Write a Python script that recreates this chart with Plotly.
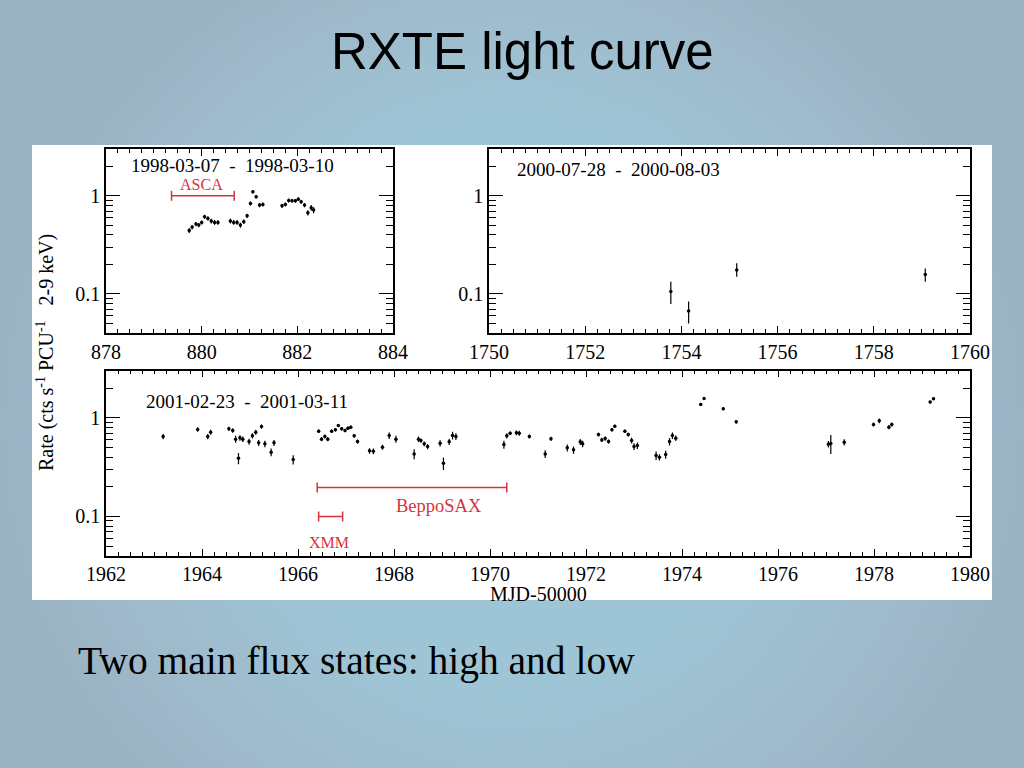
import math
import plotly.graph_objects as go

# ---------------- data ----------------
tl_mjd = [879.74, 879.80, 879.88, 879.94, 880.00, 880.06, 880.13, 880.20, 880.27, 880.34,
          880.60, 880.67, 880.74, 880.81, 880.88, 880.95, 881.02, 881.07, 881.14, 881.21,
          881.28, 881.68, 881.75, 881.82, 881.89, 881.96, 882.02, 882.08, 882.15, 882.22,
          882.29, 882.34]
tl_rate = [0.444, 0.48, 0.515, 0.503, 0.536, 0.612, 0.589, 0.553, 0.536, 0.536,
           0.553, 0.536, 0.536, 0.503, 0.545, 0.626, 0.837, 1.099, 0.977, 0.804,
           0.817, 0.791, 0.817, 0.897, 0.89, 0.89, 0.925, 0.869, 0.804, 0.671,
           0.755, 0.716]
tl_err = [0.025, 0.025, 0.025, 0.025, 0.025, 0.03, 0.03, 0.03, 0.03, 0.03,
          0.03, 0.03, 0.03, 0.03, 0.03, 0.03, 0.04, 0.04, 0.04, 0.04,
          0.04, 0.04, 0.04, 0.04, 0.04, 0.04, 0.04, 0.04, 0.04, 0.04,
          0.05, 0.05]

tr_mjd = [1753.78, 1754.15, 1755.15, 1759.07]
tr_rate = [0.106, 0.067, 0.175, 0.158]
tr_err_plus = [0.027, 0.017, 0.030, 0.024]
tr_err_minus = [0.027, 0.017, 0.025, 0.025]

b_mjd = [1963.19, 1963.91, 1964.12, 1964.18, 1964.56, 1964.64, 1964.70, 1964.76, 1964.79,
         1964.85, 1964.98, 1965.05, 1965.12, 1965.18, 1965.24, 1965.31, 1965.44, 1965.50,
         1965.90, 1966.43, 1966.49, 1966.56, 1966.62, 1966.70, 1966.78, 1966.84, 1966.91,
         1966.98, 1967.04, 1967.10, 1967.17, 1967.24, 1967.49, 1967.57, 1967.76, 1967.90,
         1968.04, 1968.42, 1968.51, 1968.56, 1968.63, 1968.70, 1968.96, 1969.03, 1969.15,
         1969.22, 1969.29, 1970.29, 1970.35, 1970.42, 1970.55, 1970.61, 1970.82, 1971.15,
         1971.27, 1971.61, 1971.74, 1971.88, 1971.93, 1972.26, 1972.33, 1972.40, 1972.47,
         1972.54, 1972.60, 1972.81, 1972.88, 1972.95, 1973.00, 1973.07, 1973.46, 1973.53,
         1973.66, 1973.74, 1973.80, 1973.87, 1974.39, 1974.46, 1974.86, 1975.13, 1977.05,
         1977.10, 1977.38, 1977.99, 1978.11, 1978.31, 1978.37, 1979.17, 1979.24]
b_rate = [0.645, 0.76, 0.645, 0.714, 0.773, 0.743, 0.607, 0.389, 0.626,
          0.607, 0.574, 0.656, 0.714, 0.557, 0.816, 0.544, 0.447, 0.557,
          0.377, 0.731, 0.607, 0.645, 0.607, 0.731, 0.755, 0.835, 0.773,
          0.743, 0.784, 0.803, 0.656, 0.574, 0.462, 0.458, 0.503, 0.661,
          0.607, 0.43, 0.607, 0.588, 0.544, 0.511, 0.552, 0.346, 0.571,
          0.661, 0.645, 0.535, 0.656, 0.698, 0.704, 0.698, 0.645, 0.43,
          0.612, 0.496, 0.473, 0.571, 0.544, 0.676, 0.597, 0.616, 0.574,
          0.755, 0.822, 0.731, 0.676, 0.588, 0.511, 0.523, 0.414, 0.398,
          0.424, 0.574, 0.661, 0.621, 1.366, 1.57, 1.234, 0.91, 0.54,
          0.55, 0.565, 0.855, 0.932, 0.803, 0.855, 1.442, 1.56]
b_err = [0.04, 0.04, 0.04, 0.04, 0.04, 0.04, 0.05, 0.05, 0.04,
         0.04, 0.04, 0.04, 0.04, 0.04, 0.04, 0.04, 0.04, 0.04,
         0.04, 0.03, 0.03, 0.03, 0.03, 0.03, 0.03, 0.03, 0.03,
         0.03, 0.03, 0.03, 0.03, 0.03, 0.03, 0.03, 0.03, 0.05,
         0.05, 0.05, 0.04, 0.03, 0.03, 0.03, 0.04, 0.05, 0.04,
         0.06, 0.05, 0.05, 0.04, 0.03, 0.04, 0.04, 0.03, 0.04,
         0.03, 0.04, 0.04, 0.04, 0.04, 0.03, 0.03, 0.03, 0.03,
         0.03, 0.03, 0.03, 0.03, 0.04, 0.04, 0.04, 0.04, 0.03,
         0.04, 0.05, 0.05, 0.04, 0.05, 0.05, 0.04, 0.04, 0.04,
         0.12, 0.04, 0.04, 0.05, 0.04, 0.04, 0.05, 0.05]

# observation windows (start, end, rate level)
asca_win = [879.37, 880.68, 1.0]
sax_win = [1966.40, 1970.35, 0.197]
xmm_win = [1966.43, 1966.93, 0.1]

y_lo, y_hi = 0.04, 3.0
y_minor = [0.04, 0.05, 0.06, 0.07, 0.08, 0.09, 0.2, 0.3, 0.4, 0.5, 0.6, 0.7, 0.8, 0.9, 2, 3]

# ---------------- figure ----------------
W, H = 1024, 768
fig = go.Figure()

def px_x(p):
    return p / W

def px_y(p):
    return 1 - p / H

# background gradient approximation
shapes = []
n_rings = 18
for i in range(n_rings):
    f = i / n_rings
    shapes.append(dict(type="circle", xref="paper", yref="paper", layer="below",
                       x0=0.0 + 0.25 * f, x1=1.0 - 0.25 * f,
                       y0=-0.2 + 0.3 * f, y1=1.1 - 0.25 * f,
                       line=dict(width=0), fillcolor="rgba(185,212,226,0.05)"))
shapes.append(dict(type="rect", xref="paper", yref="paper", layer="below",
                   x0=px_x(32), x1=px_x(992), y0=px_y(600), y1=px_y(145),
                   line=dict(width=0), fillcolor="white"))

mk = dict(color="black", size=3.5)
ek = dict(color="black", thickness=1.2, width=0)

fig.add_trace(go.Scatter(x=tl_mjd, y=tl_rate, mode="markers", marker=mk,
                         error_y=dict(type="data", array=tl_err, **ek),
                         xaxis="x", yaxis="y", showlegend=False))
fig.add_trace(go.Scatter(x=tr_mjd, y=tr_rate, mode="markers", marker=mk,
                         error_y=dict(type="data", array=tr_err_plus, arrayminus=tr_err_minus, **ek),
                         xaxis="x2", yaxis="y2", showlegend=False))
fig.add_trace(go.Scatter(x=b_mjd, y=b_rate, mode="markers", marker=mk,
                         error_y=dict(type="data", array=b_err, **ek),
                         xaxis="x3", yaxis="y3", showlegend=False))

red = "#d8323c"
for win, xa, ya in [(asca_win, "x", "y"), (sax_win, "x3", "y3"), (xmm_win, "x3", "y3")]:
    c = (win[0] + win[1]) / 2
    h = (win[1] - win[0]) / 2
    fig.add_trace(go.Scatter(x=[c], y=[win[2]], mode="markers",
                             marker=dict(size=1, color=red, opacity=0),
                             error_x=dict(type="data", array=[h], color=red, thickness=1.5, width=5),
                             xaxis=xa, yaxis=ya, showlegend=False, hoverinfo="skip"))

tick_font = dict(family="Liberation Serif", size=20, color="black")

def xax(domain, rng, dtick, anchor):
    return dict(domain=domain, range=rng, dtick=dtick, tick0=rng[0], anchor=anchor,
                showgrid=False, zeroline=False, showline=True, linecolor="black", linewidth=1.5,
                mirror="ticks", ticks="inside", ticklen=7, tickwidth=1.2, tickcolor="black",
                minor=dict(dtick=0.25, tick0=rng[0], ticks="inside", ticklen=4, tickwidth=1,
                           tickcolor="black", showgrid=False),
                tickfont=tick_font, fixedrange=True, automargin=False)

def yax(domain, anchor):
    return dict(domain=domain, type="log", range=[math.log10(y_lo), math.log10(y_hi)],
                anchor=anchor, tickmode="array", tickvals=[0.1, 1], ticktext=["0.1", "1"],
                showgrid=False, zeroline=False, showline=True, linecolor="black", linewidth=1.5,
                mirror="ticks", ticks="inside", ticklen=14, tickwidth=1.2, tickcolor="black",
                minor=dict(tickmode="array", tickvals=y_minor, ticks="inside", ticklen=7,
                           tickwidth=1, tickcolor="black", showgrid=False),
                tickfont=tick_font, fixedrange=True, automargin=False)

top_dom = [px_y(333), px_y(149)]
bot_dom = [px_y(555.7), px_y(370.7)]

fig.update_layout(
    width=W, height=H, autosize=False,
    margin=dict(l=0, r=0, t=0, b=0, pad=0, autoexpand=False),
    paper_bgcolor="#9ab3c2",
    plot_bgcolor="white",
    showlegend=False,
    shapes=shapes,
    xaxis=xax([px_x(106), px_x(393)], [878, 884], 2, "y"),
    yaxis=yax(top_dom, "x"),
    xaxis2=xax([px_x(489), px_x(970)], [1750, 1760], 2, "y2"),
    yaxis2=yax(top_dom, "x2"),
    xaxis3=xax([px_x(106), px_x(970)], [1962, 1980], 2, "y3"),
    yaxis3=yax(bot_dom, "x3"),
)

serif = "Liberation Serif"
ann = []
def note(text, x, y, size, color="black", xref="paper", yref="paper", xanchor="center", angle=0):
    ann.append(dict(text=text, xref=xref, yref=yref, x=x, y=y, showarrow=False, borderpad=0,
                    textangle=angle, font=dict(family=serif, size=size, color=color),
                    xanchor=xanchor, yanchor="middle"))

ann.append(dict(text="RXTE light curve", xref="paper", yref="paper", x=px_x(522), y=px_y(51),
                showarrow=False, font=dict(family="Liberation Sans", size=51, color="black"),
                xanchor="center", yanchor="middle"))
note("1998-03-07 \u00a0- \u00a01998-03-10", px_x(232), px_y(165), 19)
note("2000-07-28 \u00a0- \u00a02000-08-03", px_x(618), px_y(169), 19)
note("2001-02-23 \u00a0- \u00a02001-03-11", px_x(247), px_y(401), 19)
note("ASCA", 880.0, math.log10(1.29), 16, red, "x", "y")
note("BeppoSAX", 1968.94, math.log10(0.128), 18.5, red, "x3", "y3")
note("XMM", 1966.65, math.log10(0.0544), 16, red, "x3", "y3")
note("MJD-50000", px_x(538), px_y(594), 20)
note("Rate (cts s<sup>-1</sup> PCU<sup>-1</sup> \u00a0 2-9 keV)", px_x(45), px_y(353), 20, angle=-90)
note("Two main flux states: high and low", px_x(77), px_y(661), 39.5, xanchor="left")
fig.update_layout(annotations=ann)

fig.write_html("out.html", config={"responsive": False, "displayModeBar": False},
               post_script="document.body.style.margin='0px';document.body.style.padding='0px';")
